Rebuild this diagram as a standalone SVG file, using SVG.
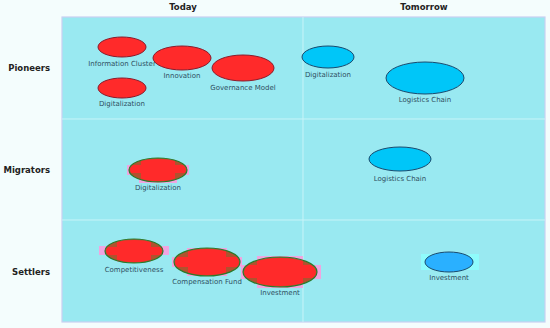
<svg xmlns="http://www.w3.org/2000/svg" width="550" height="328" viewBox="0 0 550 328">
<style>
.hdr{font-family:"DejaVu Sans",sans-serif;font-weight:bold;font-size:8.5px;fill:#222}
.lbl{font-family:"DejaVu Sans",sans-serif;font-size:7px;fill:#2f4f5f;text-anchor:middle}
.red{fill:#ff2a2a;stroke:#8b1a2a;stroke-width:1}
.blue{fill:#00c6f8;stroke:#1a4a6e;stroke-width:1}
.blue2{fill:#2ab0ff;stroke:#1a4a6e;stroke-width:1}
.pink{fill:#ff99dd;opacity:0.85}
.brown{fill:#b0522e;stroke:#2a7a2a;stroke-width:1.2}
.redx{fill:#ff2a2a}
.grid{stroke:#c8f4f8;stroke-width:1}
</style>
<defs>
<clipPath id="c1"><ellipse cx="158" cy="170" rx="28" ry="11"/></clipPath>
<clipPath id="c2"><ellipse cx="134" cy="251" rx="28" ry="11"/></clipPath>
<clipPath id="c3"><ellipse cx="207" cy="262" rx="32" ry="13"/></clipPath>
<clipPath id="c4"><ellipse cx="280" cy="272" rx="36" ry="14"/></clipPath>
</defs>
<rect x="0" y="0" width="550" height="328" fill="#f4fdfd"/>
<rect x="62" y="17" width="483" height="305" fill="#99e9f1" stroke="#c9d0f2" stroke-width="1.2"/>
<g id="grid">
<line class="grid" x1="303" y1="17" x2="303" y2="322"/>
<line class="grid" x1="62" y1="119" x2="545" y2="119"/>
<line class="grid" x1="62" y1="220" x2="545" y2="220"/>
</g>
<g id="headers">
<text class="hdr" x="183" y="10" text-anchor="middle">Today</text>
<text class="hdr" x="424" y="10" text-anchor="middle">Tomorrow</text>
<text class="hdr" x="50" y="71" text-anchor="end">Pioneers</text>
<text class="hdr" x="50" y="173" text-anchor="end">Migrators</text>
<text class="hdr" x="50" y="275" text-anchor="end">Settlers</text>
</g>
<g id="connectors"></g>
<g id="n-info-cluster"><ellipse class="red" cx="122" cy="47" rx="24" ry="10"/><text class="lbl" x="122" y="66">Information Cluster</text></g>
<g id="n-innovation"><ellipse class="red" cx="182" cy="58" rx="29" ry="12"/><text class="lbl" x="182" y="78">Innovation</text></g>
<g id="n-governance"><ellipse class="red" cx="243" cy="68" rx="31" ry="13"/><text class="lbl" x="243" y="90">Governance Model</text></g>
<g id="n-digital-p-today"><ellipse class="red" cx="122" cy="88" rx="24" ry="10"/><text class="lbl" x="122" y="106">Digitalization</text></g>
<g id="n-digital-p-tomorrow"><ellipse class="blue" cx="328" cy="57" rx="26" ry="11"/><text class="lbl" x="328" y="77">Digitalization</text></g>
<g id="n-logistics-p"><ellipse class="blue" cx="425" cy="78" rx="39" ry="16"/><text class="lbl" x="425" y="102">Logistics Chain</text></g>
<g id="n-digital-m"><rect class="pink" x="139" y="161" width="38" height="22"/><rect class="pink" x="127" y="165" width="62" height="10"/><ellipse class="brown" cx="158" cy="170" rx="29" ry="12"/><g clip-path="url(#c1)"><rect class="redx" x="141" y="157" width="34" height="26"/><rect class="redx" x="128" y="165" width="60" height="8"/></g><text class="lbl" x="158" y="190">Digitalization</text></g>
<g id="n-logistics-m"><ellipse class="blue" cx="400" cy="159" rx="31" ry="12"/><text class="lbl" x="400" y="181">Logistics Chain</text></g>
<g id="n-competitiveness"><rect class="pink" x="117" y="241" width="34" height="21"/><rect class="pink" x="99" y="246" width="70" height="9"/><ellipse class="brown" cx="134" cy="251" rx="29" ry="12"/><g clip-path="url(#c2)"><rect class="redx" x="117" y="238" width="34" height="26"/><rect class="redx" x="104" y="247" width="60" height="8"/></g><text class="lbl" x="134" y="272">Competitiveness</text></g>
<g id="n-compensation"><rect class="pink" x="187" y="248" width="40" height="28"/><rect class="pink" x="172" y="257" width="70" height="10"/><ellipse class="brown" cx="207" cy="262" rx="33" ry="14"/><g clip-path="url(#c3)"><rect class="redx" x="188" y="247" width="38" height="30"/><rect class="redx" x="173" y="257" width="68" height="10"/></g><text class="lbl" x="207" y="284">Compensation Fund</text></g>
<g id="n-investment-t"><rect class="pink" x="257" y="256" width="46" height="32"/><rect class="pink" x="241" y="265" width="80" height="14"/><ellipse class="brown" cx="280" cy="272" rx="37" ry="15"/><g clip-path="url(#c4)"><rect class="redx" x="257" y="256" width="46" height="32"/><rect class="redx" x="242" y="265" width="76" height="13"/></g><text class="lbl" x="280" y="295">Investment</text></g>
<g id="n-investment-tm"><rect x="421" y="254" width="58" height="16" fill="#8ffcfc"/><ellipse class="blue2" cx="449" cy="262" rx="24" ry="10"/><text class="lbl" x="449" y="280">Investment</text></g>
</svg>
